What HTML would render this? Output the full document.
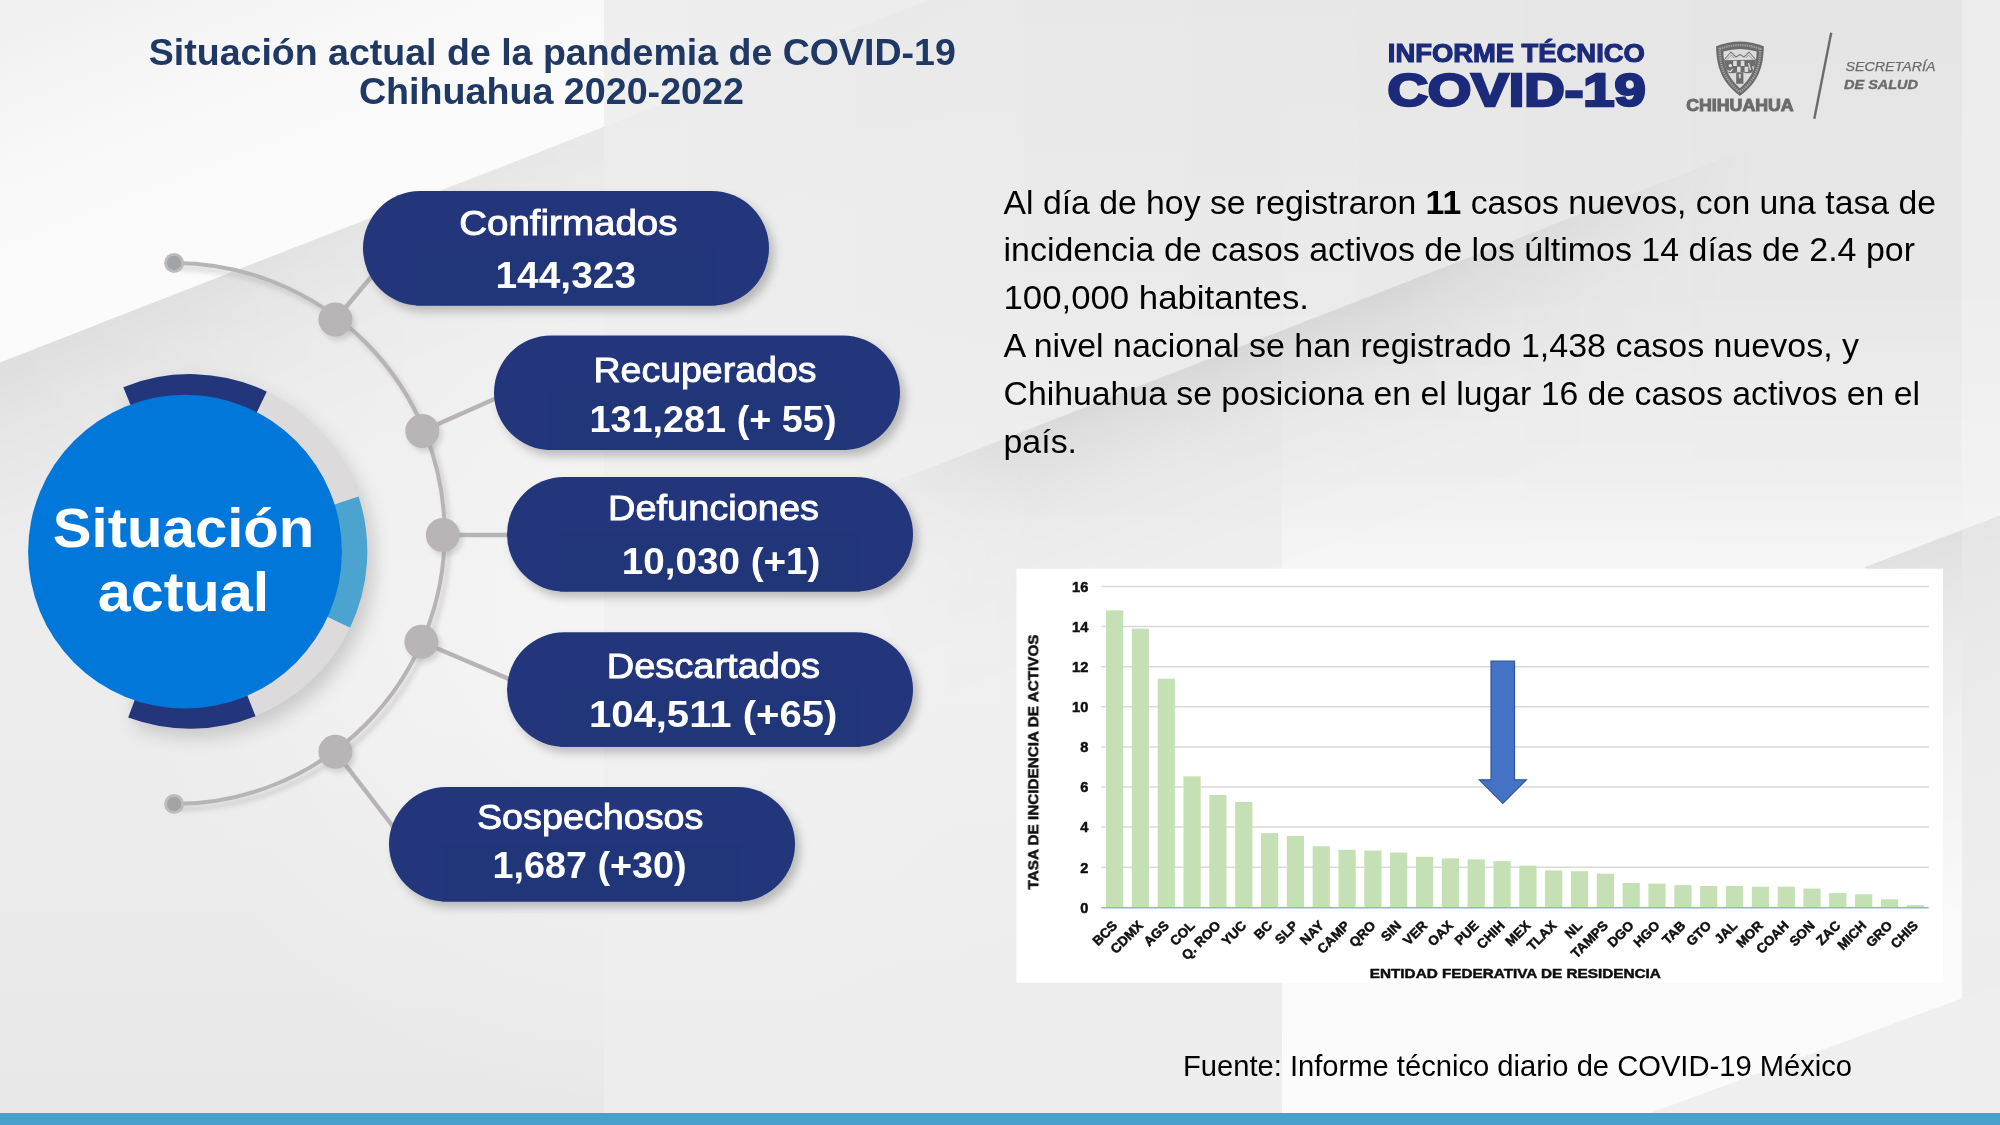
<!DOCTYPE html>
<html lang="es"><head><meta charset="utf-8"><title>Situación actual de la pandemia de COVID-19 Chihuahua 2020-2022</title>
<style>html,body{margin:0;padding:0;background:#ececec;}body{width:2000px;height:1125px;overflow:hidden;font-family:"Liberation Sans", sans-serif;}svg{display:block;}text{font-family:"Liberation Sans", sans-serif;}</style>
</head><body>
<svg width="2000" height="1125" viewBox="0 0 2000 1125" style="will-change:transform">
<defs>
<linearGradient id="gBase" x1="0" y1="0" x2="0" y2="1"><stop offset="0" stop-color="#eaeaea"/><stop offset="0.3" stop-color="#ebebeb"/><stop offset="0.6" stop-color="#ededed"/><stop offset="1" stop-color="#e8e8e8"/></linearGradient>
<linearGradient id="gA" gradientUnits="userSpaceOnUse" x1="300" y1="245.4" x2="191" y2="-34"><stop offset="0" stop-color="#fbfbfb"/><stop offset="0.6" stop-color="#f8f8f8"/><stop offset="1" stop-color="#f1f1f1"/></linearGradient>
<linearGradient id="gB" gradientUnits="userSpaceOnUse" x1="300" y1="245.4" x2="361.8" y2="403.8"><stop offset="0" stop-color="#000" stop-opacity="0.052"/><stop offset="0.35" stop-color="#000" stop-opacity="0.026"/><stop offset="1" stop-color="#000" stop-opacity="0"/></linearGradient>
<linearGradient id="gBm" gradientUnits="userSpaceOnUse" x1="0" y1="0" x2="930" y2="0"><stop offset="0" stop-color="#fff"/><stop offset="0.3" stop-color="#aaa"/><stop offset="0.62" stop-color="#444"/><stop offset="1" stop-color="#222"/></linearGradient>
<mask id="mB" maskUnits="userSpaceOnUse" x="0" y="0" width="2000" height="1125"><rect width="2000" height="1125" fill="url(#gBm)"/></mask>
<linearGradient id="gC" gradientUnits="userSpaceOnUse" x1="1200" y1="362.4" x2="1287.2" y2="586"><stop offset="0" stop-color="#000" stop-opacity="0.08"/><stop offset="0.15" stop-color="#000" stop-opacity="0.05"/><stop offset="0.35" stop-color="#000" stop-opacity="0.022"/><stop offset="0.7" stop-color="#000" stop-opacity="0.006"/><stop offset="1" stop-color="#000" stop-opacity="0"/></linearGradient>
<linearGradient id="gCm" gradientUnits="userSpaceOnUse" x1="860" y1="0" x2="1760" y2="0"><stop offset="0" stop-color="#000"/><stop offset="0.2" stop-color="#fff"/><stop offset="0.6" stop-color="#fff"/><stop offset="1" stop-color="#000"/></linearGradient>
<mask id="mC" maskUnits="userSpaceOnUse" x="0" y="0" width="2000" height="1125"><rect width="2000" height="1125" fill="url(#gCm)"/></mask>
<linearGradient id="gD" gradientUnits="userSpaceOnUse" x1="1932" y1="541" x2="2060" y2="880"><stop offset="0" stop-color="#000" stop-opacity="0.085"/><stop offset="0.5" stop-color="#000" stop-opacity="0.035"/><stop offset="1" stop-color="#000" stop-opacity="0"/></linearGradient>
<linearGradient id="gE" x1="0" y1="0" x2="0" y2="1"><stop offset="0" stop-color="#fff" stop-opacity="0.0"/><stop offset="0.42" stop-color="#fff" stop-opacity="0.12"/><stop offset="0.53" stop-color="#fff" stop-opacity="0.55"/><stop offset="1" stop-color="#fff" stop-opacity="0.8"/></linearGradient>
<linearGradient id="gR" x1="0" y1="0" x2="0" y2="1"><stop offset="0" stop-color="#ececec"/><stop offset="0.14" stop-color="#ededed"/><stop offset="0.5" stop-color="#f0f0f0"/><stop offset="1" stop-color="#eeeeee"/></linearGradient>
<linearGradient id="gH" gradientUnits="userSpaceOnUse" x1="604" y1="0" x2="1800" y2="0"><stop offset="0" stop-color="#000" stop-opacity="0"/><stop offset="1" stop-color="#000" stop-opacity="0.028"/></linearGradient>
<linearGradient id="gHv" x1="0" y1="0" x2="0" y2="1"><stop offset="0" stop-color="#fff"/><stop offset="0.25" stop-color="#fff"/><stop offset="0.5" stop-color="#000"/><stop offset="1" stop-color="#000"/></linearGradient>
<mask id="mH" maskUnits="userSpaceOnUse" x="0" y="0" width="2000" height="1125"><rect width="2000" height="1125" fill="url(#gHv)"/></mask>
<radialGradient id="gF" gradientUnits="userSpaceOnUse" cx="640" cy="600" r="520"><stop offset="0" stop-color="#fff" stop-opacity="0.5"/><stop offset="1" stop-color="#fff" stop-opacity="0"/></radialGradient>
<filter id="cb" filterUnits="userSpaceOnUse" x="1016" y="568" width="928" height="416"><feGaussianBlur stdDeviation="0.55"/></filter>
<filter id="sh" x="-20%" y="-20%" width="140%" height="150%"><feGaussianBlur stdDeviation="5"/></filter>
<filter id="sh2" x="-20%" y="-20%" width="140%" height="140%"><feGaussianBlur stdDeviation="9"/></filter>
<filter id="sh3" x="-50%" y="-50%" width="200%" height="200%"><feGaussianBlur stdDeviation="2.5"/></filter>
</defs>
<rect width="2000" height="1125" fill="url(#gBase)"/>
<rect width="2000" height="1125" fill="url(#gF)"/>
<polygon points="0,0 929,0 0,362.4" fill="url(#gA)"/>
<polygon points="0,362.4 929,0 1450,0 0,565.5" fill="url(#gB)" mask="url(#mB)"/>
<rect x="604" y="0" width="1396" height="1125" fill="url(#gR)" opacity="0.82"/>
<rect x="1282" y="0" width="680" height="1125" fill="url(#gE)"/>
<rect x="604" y="0" width="1396" height="1125" fill="url(#gH)" mask="url(#mH)"/>
<polygon points="604,595 2000,50.3 2000,330 604,875" fill="url(#gC)" mask="url(#mC)"/>
<polygon points="1962,0 2000,0 2000,515.5 1962,530" fill="#fff" opacity="0.3"/>
<polygon points="1865,567 1962,530 1962,960 1865,960" fill="url(#gD)"/>
<polygon points="1962,530 2000,515.5 2000,960 1962,960" fill="url(#gD)" opacity="0.45"/>
<polygon points="1650,1113 2000,984.5 2000,1113" fill="#eeeeee" opacity="0.95"/>
<rect x="0" y="1113" width="2000" height="12" fill="#4aa0cc"/>
<text x="552.3" y="64.6" text-anchor="middle" font-size="37.33" font-weight="bold" fill="#1f3864" textLength="807" lengthAdjust="spacingAndGlyphs">Situación actual de la pandemia de COVID-19</text>
<text x="551.4" y="103.9" text-anchor="middle" font-size="37.33" font-weight="bold" fill="#1f3864" textLength="385" lengthAdjust="spacingAndGlyphs">Chihuahua 2020-2022</text>
<text x="1387.8" y="61.8" font-size="25.4" font-weight="bold" fill="#1b2a7a" stroke="#1b2a7a" stroke-width="1.1" textLength="257" lengthAdjust="spacingAndGlyphs">INFORME TÉCNICO</text>
<text x="1387.4" y="106.3" font-size="46.4" font-weight="bold" fill="#1b2a7a" stroke="#1b2a7a" stroke-width="2.6" stroke-linejoin="miter" textLength="258.2" lengthAdjust="spacingAndGlyphs">COVID-19</text>
<g id="shield">
<clipPath id="shIn"><path d="M1723.4,51.6 Q1740,46.2 1756.6,51.6 C1756.5,66 1752.5,77 1739.9,88.2 C1727.5,77 1723.5,66 1723.4,51.6 Z"/></clipPath>
<path d="M1716.1,46.3 Q1740,36.9 1763.8,46.3 C1763.5,66 1759,82 1739.9,95.9 C1721,82 1716.4,66 1716.1,46.3 Z" fill="#6b6b6b"/>
<path d="M1719.6,48.8 Q1740,41.4 1760.3,48.8 C1760,66 1756,79.8 1739.9,91.9 C1724,79.8 1720,66 1719.6,48.8 Z" fill="none" stroke="#a4a4a4" stroke-width="2.3" stroke-dasharray="1.3 1.0"/>
<g clip-path="url(#shIn)">
<rect x="1720" y="44" width="40" height="46" fill="#dcdcdc"/>
<path d="M1724,60 L1731,52 L1736,57 L1740,54.5 L1744,57 L1749,52 L1756,60" fill="none" stroke="#7a7a7a" stroke-width="1.1"/>
<path d="M1727,59.5 L1731.5,55 L1734,58 M1746,58 L1748.5,55 L1753,59.5" fill="none" stroke="#8a8a8a" stroke-width="0.9"/>
<path d="M1722,60.3 L1758,59.8 L1758,70 Q1749,74.5 1743.5,72.6 L1736.3,72.6 Q1731,74.5 1722,70 Z" fill="#6d6d6d"/>
<rect x="1733.2" y="60.8" width="3.6" height="5.2" fill="#dedede"/>
<rect x="1740.8" y="60.8" width="3.6" height="5.2" fill="#dedede"/>
<rect x="1737.0" y="66.7" width="3.6" height="5.2" fill="#dedede"/>
<rect x="1744.6" y="66.7" width="3.6" height="5.2" fill="#dedede"/>
<circle cx="1730.3" cy="65.6" r="1.7" fill="#e0e0e0"/>
<path d="M1727.5,70.5 Q1731,73 1732.5,68.8" fill="none" stroke="#d8d8d8" stroke-width="1.2"/>
<path d="M1748.5,63 L1750.5,70 M1752.8,66 L1754,71.5" fill="none" stroke="#d8d8d8" stroke-width="1.3"/>
<rect x="1736.2" y="72.6" width="7.2" height="11.2" fill="#6d6d6d"/>
<path d="M1738.6,74 L1741,74 L1740.6,78.2 L1739,78.2 Z" fill="#cfcfcf"/>
</g>
</g>
<text x="1686.2" y="110.5" font-size="16.8" font-weight="bold" fill="#6b6b6b" stroke="#6b6b6b" stroke-width="1.0" textLength="107.5" lengthAdjust="spacingAndGlyphs">CHIHUAHUA</text>
<line x1="1831.2" y1="32.8" x2="1814.3" y2="118.7" stroke="#6b6b6b" stroke-width="2.4"/>
<text x="1845.5" y="70.8" font-size="13.6" font-style="italic" fill="#6b6b6b" stroke="#6b6b6b" stroke-width="0.25" textLength="90" lengthAdjust="spacingAndGlyphs">SECRETARÍA</text>
<text x="1844" y="88.8" font-size="13.6" font-style="italic" font-weight="bold" fill="#6b6b6b" stroke="#6b6b6b" stroke-width="0.4" textLength="74" lengthAdjust="spacingAndGlyphs">DE SALUD</text>
<g>
<g opacity="0.35" filter="url(#sh3)" transform="translate(4,5)">
<path d="M174.1,263 A270.5,270.5 0 0 1 174.1,804" fill="none" stroke="#8a8a8a" stroke-width="4"/>
</g>
<path d="M174.1,263 A270.5,270.5 0 0 1 174.1,804" fill="none" stroke="#b8b4b5" stroke-width="4.0"/>
<line x1="335.4" y1="319.5" x2="372.0" y2="276.0" stroke="#b8b4b5" stroke-width="4.4"/>
<line x1="422.3" y1="431.0" x2="498.0" y2="397.5" stroke="#b8b4b5" stroke-width="4.4"/>
<line x1="442.8" y1="535.0" x2="510.0" y2="535.0" stroke="#b8b4b5" stroke-width="4.4"/>
<line x1="421.4" y1="641.8" x2="510.0" y2="679.5" stroke="#b8b4b5" stroke-width="4.4"/>
<line x1="335.4" y1="751.8" x2="393.0" y2="826.5" stroke="#b8b4b5" stroke-width="4.4"/>
<circle cx="335.4" cy="319.5" r="17" fill="#8f8f8f" opacity="0.3" filter="url(#sh3)" transform="translate(3,4)"/>
<circle cx="335.4" cy="319.5" r="17" fill="#b9b5b6"/>
<circle cx="422.3" cy="431.0" r="17" fill="#8f8f8f" opacity="0.3" filter="url(#sh3)" transform="translate(3,4)"/>
<circle cx="422.3" cy="431.0" r="17" fill="#b9b5b6"/>
<circle cx="442.8" cy="535.0" r="17" fill="#8f8f8f" opacity="0.3" filter="url(#sh3)" transform="translate(3,4)"/>
<circle cx="442.8" cy="535.0" r="17" fill="#b9b5b6"/>
<circle cx="421.4" cy="641.8" r="17" fill="#8f8f8f" opacity="0.3" filter="url(#sh3)" transform="translate(3,4)"/>
<circle cx="421.4" cy="641.8" r="17" fill="#b9b5b6"/>
<circle cx="335.4" cy="751.8" r="17" fill="#8f8f8f" opacity="0.3" filter="url(#sh3)" transform="translate(3,4)"/>
<circle cx="335.4" cy="751.8" r="17" fill="#b9b5b6"/>
<circle cx="174.1" cy="263.0" r="10" fill="#bdbbbc"/>
<circle cx="174.1" cy="263.0" r="7.2" fill="#a1a5a8"/>
<circle cx="174.1" cy="804.0" r="10" fill="#bdbbbc"/>
<circle cx="174.1" cy="804.0" r="7.2" fill="#a1a5a8"/>
</g>
<path d="M123.58,387.01 A177.3,177.3 0 1 1 127.91,717.47 Z" fill="#7a7a7a" opacity="0.32" filter="url(#sh2)" transform="translate(7,9)"/>
<path d="M123.30,387.13 A177.3,177.3 0 0 1 266.89,391.64 L250.71,425.25 A140.0,140.0 0 0 0 137.33,421.69 Z" fill="#23367c"/>
<path d="M266.89,391.64 A177.3,177.3 0 0 1 358.62,496.61 L323.15,508.14 A140.0,140.0 0 0 0 250.71,425.25 Z" fill="#dcdadb"/>
<path d="M358.62,496.61 A177.3,177.3 0 0 1 350.03,627.73 L316.36,611.67 A140.0,140.0 0 0 0 323.15,508.14 Z" fill="#4ba3cf"/>
<path d="M350.03,627.73 A177.3,177.3 0 0 1 255.56,716.14 L241.76,681.48 A140.0,140.0 0 0 0 316.36,611.67 Z" fill="#dcdadb"/>
<path d="M255.56,716.14 A177.3,177.3 0 0 1 128.20,717.58 L141.20,682.62 A140.0,140.0 0 0 0 241.76,681.48 Z" fill="#23367c"/>
<circle cx="185" cy="551.7" r="156.9" fill="#0077d9"/>
<text x="183.6" y="546.6" text-anchor="middle" font-size="56" font-weight="bold" fill="#fff" textLength="261.5" lengthAdjust="spacingAndGlyphs">Situación</text>
<text x="183.6" y="610.6" text-anchor="middle" font-size="56" font-weight="bold" fill="#fff" textLength="171.5" lengthAdjust="spacingAndGlyphs">actual</text>
<rect x="363.0" y="191.0" width="406.0" height="114.5" rx="57.25" fill="#6f6f6f" opacity="0.42" filter="url(#sh)" transform="translate(5,6)"/>
<rect x="363.0" y="191.0" width="406.0" height="114.5" rx="57.25" fill="#23367c"/>
<rect x="416.0" y="248.0" width="300" height="57.5" fill="#213579"/>
<text x="459.2" y="234.5" font-size="34.8" fill="#fff" stroke="#fff" stroke-width="0.9" textLength="218.3" lengthAdjust="spacingAndGlyphs">Confirmados</text>
<text x="495.5" y="288.4" font-size="37.7" font-weight="bold" fill="#fff" textLength="140.5" lengthAdjust="spacingAndGlyphs">144,323</text>
<rect x="494.0" y="335.5" width="406.0" height="114.5" rx="57.25" fill="#6f6f6f" opacity="0.42" filter="url(#sh)" transform="translate(5,6)"/>
<rect x="494.0" y="335.5" width="406.0" height="114.5" rx="57.25" fill="#23367c"/>
<rect x="547.0" y="392.5" width="300" height="57.5" fill="#213579"/>
<text x="593.5" y="381.9" font-size="34.8" fill="#fff" stroke="#fff" stroke-width="0.9" textLength="223.0" lengthAdjust="spacingAndGlyphs">Recuperados</text>
<text x="589.4" y="432.0" font-size="37.7" font-weight="bold" fill="#fff" textLength="247.1" lengthAdjust="spacingAndGlyphs">131,281 (+ 55)</text>
<rect x="507.0" y="477.0" width="406.0" height="114.5" rx="57.25" fill="#6f6f6f" opacity="0.42" filter="url(#sh)" transform="translate(5,6)"/>
<rect x="507.0" y="477.0" width="406.0" height="114.5" rx="57.25" fill="#23367c"/>
<rect x="560.0" y="534.0" width="300" height="57.5" fill="#213579"/>
<text x="608.0" y="519.6" font-size="34.8" fill="#fff" stroke="#fff" stroke-width="0.9" textLength="211.1" lengthAdjust="spacingAndGlyphs">Defunciones</text>
<text x="621.7" y="573.8" font-size="37.7" font-weight="bold" fill="#fff" textLength="198.8" lengthAdjust="spacingAndGlyphs">10,030 (+1)</text>
<rect x="507.0" y="632.3" width="406.0" height="114.5" rx="57.25" fill="#6f6f6f" opacity="0.42" filter="url(#sh)" transform="translate(5,6)"/>
<rect x="507.0" y="632.3" width="406.0" height="114.5" rx="57.25" fill="#23367c"/>
<rect x="560.0" y="689.3" width="300" height="57.5" fill="#213579"/>
<text x="606.8" y="678.3" font-size="34.8" fill="#fff" stroke="#fff" stroke-width="0.9" textLength="213.2" lengthAdjust="spacingAndGlyphs">Descartados</text>
<text x="588.9" y="727.0" font-size="37.7" font-weight="bold" fill="#fff" textLength="248.4" lengthAdjust="spacingAndGlyphs">104,511 (+65)</text>
<rect x="389.0" y="787.0" width="406.0" height="114.5" rx="57.25" fill="#6f6f6f" opacity="0.42" filter="url(#sh)" transform="translate(5,6)"/>
<rect x="389.0" y="787.0" width="406.0" height="114.5" rx="57.25" fill="#23367c"/>
<rect x="442.0" y="844.0" width="300" height="57.5" fill="#213579"/>
<text x="476.9" y="828.7" font-size="34.8" fill="#fff" stroke="#fff" stroke-width="0.9" textLength="226.6" lengthAdjust="spacingAndGlyphs">Sospechosos</text>
<text x="492.5" y="878.0" font-size="37.7" font-weight="bold" fill="#fff" textLength="194.2" lengthAdjust="spacingAndGlyphs">1,687 (+30)</text>
<text x="1003.5" y="213.5" font-size="33" fill="#000" textLength="932.5" lengthAdjust="spacingAndGlyphs">Al día de hoy se registraron <tspan font-weight="bold">11</tspan> casos nuevos, con una tasa de</text>
<text x="1003.5" y="260.7" font-size="33" fill="#000" textLength="911.5" lengthAdjust="spacingAndGlyphs">incidencia de casos activos de los últimos 14 días de 2.4 por</text>
<text x="1003.5" y="308.7" font-size="33" fill="#000" textLength="305.5" lengthAdjust="spacingAndGlyphs">100,000 habitantes.</text>
<text x="1003.5" y="356.7" font-size="33" fill="#000" textLength="855.5" lengthAdjust="spacingAndGlyphs">A nivel nacional se han registrado 1,438 casos nuevos, y</text>
<text x="1003.5" y="404.7" font-size="33" fill="#000" textLength="916.5" lengthAdjust="spacingAndGlyphs">Chihuahua se posiciona en el lugar 16 de casos activos en el</text>
<text x="1003.5" y="452.7" font-size="33" fill="#000" textLength="73.5" lengthAdjust="spacingAndGlyphs">país.</text>
<rect x="1016.5" y="568.7" width="926.5" height="414" fill="#fff"/>
<g filter="url(#cb)">
<line x1="1101.3" y1="867.2" x2="1928.7" y2="867.2" stroke="#d9d9d9" stroke-width="1.5"/>
<line x1="1101.3" y1="827.1" x2="1928.7" y2="827.1" stroke="#d9d9d9" stroke-width="1.5"/>
<line x1="1101.3" y1="787.0" x2="1928.7" y2="787.0" stroke="#d9d9d9" stroke-width="1.5"/>
<line x1="1101.3" y1="746.9" x2="1928.7" y2="746.9" stroke="#d9d9d9" stroke-width="1.5"/>
<line x1="1101.3" y1="706.8" x2="1928.7" y2="706.8" stroke="#d9d9d9" stroke-width="1.5"/>
<line x1="1101.3" y1="666.7" x2="1928.7" y2="666.7" stroke="#d9d9d9" stroke-width="1.5"/>
<line x1="1101.3" y1="626.6" x2="1928.7" y2="626.6" stroke="#d9d9d9" stroke-width="1.5"/>
<line x1="1101.3" y1="586.5" x2="1928.7" y2="586.5" stroke="#d9d9d9" stroke-width="1.5"/>
<rect x="1106.0" y="610.4" width="17.2" height="296.9" fill="#c5e0b4"/>
<rect x="1131.8" y="628.6" width="17.2" height="278.7" fill="#c5e0b4"/>
<rect x="1157.7" y="678.7" width="17.2" height="228.6" fill="#c5e0b4"/>
<rect x="1183.5" y="776.4" width="17.2" height="130.9" fill="#c5e0b4"/>
<rect x="1209.3" y="795.0" width="17.2" height="112.3" fill="#c5e0b4"/>
<rect x="1235.2" y="802.0" width="17.2" height="105.3" fill="#c5e0b4"/>
<rect x="1261.0" y="833.1" width="17.2" height="74.2" fill="#c5e0b4"/>
<rect x="1286.8" y="835.9" width="17.2" height="71.4" fill="#c5e0b4"/>
<rect x="1312.6" y="846.3" width="17.2" height="61.0" fill="#c5e0b4"/>
<rect x="1338.5" y="849.8" width="17.2" height="57.5" fill="#c5e0b4"/>
<rect x="1364.3" y="850.6" width="17.2" height="56.7" fill="#c5e0b4"/>
<rect x="1390.1" y="852.6" width="17.2" height="54.7" fill="#c5e0b4"/>
<rect x="1416.0" y="856.8" width="17.2" height="50.5" fill="#c5e0b4"/>
<rect x="1441.8" y="858.4" width="17.2" height="48.9" fill="#c5e0b4"/>
<rect x="1467.6" y="859.4" width="17.2" height="47.9" fill="#c5e0b4"/>
<rect x="1493.5" y="861.2" width="17.2" height="46.1" fill="#c5e0b4"/>
<rect x="1519.3" y="865.6" width="17.2" height="41.7" fill="#c5e0b4"/>
<rect x="1545.1" y="870.4" width="17.2" height="36.9" fill="#c5e0b4"/>
<rect x="1570.9" y="871.2" width="17.2" height="36.1" fill="#c5e0b4"/>
<rect x="1596.8" y="873.7" width="17.2" height="33.6" fill="#c5e0b4"/>
<rect x="1622.6" y="883.0" width="17.2" height="24.3" fill="#c5e0b4"/>
<rect x="1648.4" y="883.6" width="17.2" height="23.7" fill="#c5e0b4"/>
<rect x="1674.3" y="885.2" width="17.2" height="22.1" fill="#c5e0b4"/>
<rect x="1700.1" y="886.0" width="17.2" height="21.3" fill="#c5e0b4"/>
<rect x="1725.9" y="886.0" width="17.2" height="21.3" fill="#c5e0b4"/>
<rect x="1751.8" y="886.7" width="17.2" height="20.6" fill="#c5e0b4"/>
<rect x="1777.6" y="886.7" width="17.2" height="20.6" fill="#c5e0b4"/>
<rect x="1803.4" y="888.6" width="17.2" height="18.7" fill="#c5e0b4"/>
<rect x="1829.2" y="893.1" width="17.2" height="14.2" fill="#c5e0b4"/>
<rect x="1855.1" y="894.3" width="17.2" height="13.0" fill="#c5e0b4"/>
<rect x="1880.9" y="899.3" width="17.2" height="8.0" fill="#c5e0b4"/>
<rect x="1906.7" y="905.1" width="17.2" height="2.2" fill="#c5e0b4"/>
<line x1="1101.3" y1="907.7" x2="1928.7" y2="907.7" stroke="#8fb4dc" stroke-width="1.6"/>
<text x="1088.3" y="912.6" text-anchor="end" font-size="14.6" font-weight="bold" fill="#111" stroke="#111" stroke-width="0.5">0</text>
<text x="1088.3" y="872.5" text-anchor="end" font-size="14.6" font-weight="bold" fill="#111" stroke="#111" stroke-width="0.5">2</text>
<text x="1088.3" y="832.4" text-anchor="end" font-size="14.6" font-weight="bold" fill="#111" stroke="#111" stroke-width="0.5">4</text>
<text x="1088.3" y="792.3" text-anchor="end" font-size="14.6" font-weight="bold" fill="#111" stroke="#111" stroke-width="0.5">6</text>
<text x="1088.3" y="752.2" text-anchor="end" font-size="14.6" font-weight="bold" fill="#111" stroke="#111" stroke-width="0.5">8</text>
<text x="1088.3" y="712.1" text-anchor="end" font-size="14.6" font-weight="bold" fill="#111" stroke="#111" stroke-width="0.5">10</text>
<text x="1088.3" y="672.0" text-anchor="end" font-size="14.6" font-weight="bold" fill="#111" stroke="#111" stroke-width="0.5">12</text>
<text x="1088.3" y="631.9" text-anchor="end" font-size="14.6" font-weight="bold" fill="#111" stroke="#111" stroke-width="0.5">14</text>
<text x="1088.3" y="591.8" text-anchor="end" font-size="14.6" font-weight="bold" fill="#111" stroke="#111" stroke-width="0.5">16</text>
<text transform="translate(1118.1,926.5) rotate(-45)" text-anchor="end" font-size="13.4" font-weight="bold" fill="#111" stroke="#111" stroke-width="0.5">BCS</text>
<text transform="translate(1143.9,926.5) rotate(-45)" text-anchor="end" font-size="13.4" font-weight="bold" fill="#111" stroke="#111" stroke-width="0.5">CDMX</text>
<text transform="translate(1169.8,926.5) rotate(-45)" text-anchor="end" font-size="13.4" font-weight="bold" fill="#111" stroke="#111" stroke-width="0.5">AGS</text>
<text transform="translate(1195.6,926.5) rotate(-45)" text-anchor="end" font-size="13.4" font-weight="bold" fill="#111" stroke="#111" stroke-width="0.5">COL</text>
<text transform="translate(1221.4,926.5) rotate(-45)" text-anchor="end" font-size="13.4" font-weight="bold" fill="#111" stroke="#111" stroke-width="0.5">Q. ROO</text>
<text transform="translate(1247.2,926.5) rotate(-45)" text-anchor="end" font-size="13.4" font-weight="bold" fill="#111" stroke="#111" stroke-width="0.5">YUC</text>
<text transform="translate(1273.1,926.5) rotate(-45)" text-anchor="end" font-size="13.4" font-weight="bold" fill="#111" stroke="#111" stroke-width="0.5">BC</text>
<text transform="translate(1298.9,926.5) rotate(-45)" text-anchor="end" font-size="13.4" font-weight="bold" fill="#111" stroke="#111" stroke-width="0.5">SLP</text>
<text transform="translate(1324.7,926.5) rotate(-45)" text-anchor="end" font-size="13.4" font-weight="bold" fill="#111" stroke="#111" stroke-width="0.5">NAY</text>
<text transform="translate(1350.6,926.5) rotate(-45)" text-anchor="end" font-size="13.4" font-weight="bold" fill="#111" stroke="#111" stroke-width="0.5">CAMP</text>
<text transform="translate(1376.4,926.5) rotate(-45)" text-anchor="end" font-size="13.4" font-weight="bold" fill="#111" stroke="#111" stroke-width="0.5">QRO</text>
<text transform="translate(1402.2,926.5) rotate(-45)" text-anchor="end" font-size="13.4" font-weight="bold" fill="#111" stroke="#111" stroke-width="0.5">SIN</text>
<text transform="translate(1428.1,926.5) rotate(-45)" text-anchor="end" font-size="13.4" font-weight="bold" fill="#111" stroke="#111" stroke-width="0.5">VER</text>
<text transform="translate(1453.9,926.5) rotate(-45)" text-anchor="end" font-size="13.4" font-weight="bold" fill="#111" stroke="#111" stroke-width="0.5">OAX</text>
<text transform="translate(1479.7,926.5) rotate(-45)" text-anchor="end" font-size="13.4" font-weight="bold" fill="#111" stroke="#111" stroke-width="0.5">PUE</text>
<text transform="translate(1505.5,926.5) rotate(-45)" text-anchor="end" font-size="13.4" font-weight="bold" fill="#111" stroke="#111" stroke-width="0.5">CHIH</text>
<text transform="translate(1531.4,926.5) rotate(-45)" text-anchor="end" font-size="13.4" font-weight="bold" fill="#111" stroke="#111" stroke-width="0.5">MEX</text>
<text transform="translate(1557.2,926.5) rotate(-45)" text-anchor="end" font-size="13.4" font-weight="bold" fill="#111" stroke="#111" stroke-width="0.5">TLAX</text>
<text transform="translate(1583.0,926.5) rotate(-45)" text-anchor="end" font-size="13.4" font-weight="bold" fill="#111" stroke="#111" stroke-width="0.5">NL</text>
<text transform="translate(1608.9,926.5) rotate(-45)" text-anchor="end" font-size="13.4" font-weight="bold" fill="#111" stroke="#111" stroke-width="0.5">TAMPS</text>
<text transform="translate(1634.7,926.5) rotate(-45)" text-anchor="end" font-size="13.4" font-weight="bold" fill="#111" stroke="#111" stroke-width="0.5">DGO</text>
<text transform="translate(1660.5,926.5) rotate(-45)" text-anchor="end" font-size="13.4" font-weight="bold" fill="#111" stroke="#111" stroke-width="0.5">HGO</text>
<text transform="translate(1686.4,926.5) rotate(-45)" text-anchor="end" font-size="13.4" font-weight="bold" fill="#111" stroke="#111" stroke-width="0.5">TAB</text>
<text transform="translate(1712.2,926.5) rotate(-45)" text-anchor="end" font-size="13.4" font-weight="bold" fill="#111" stroke="#111" stroke-width="0.5">GTO</text>
<text transform="translate(1738.0,926.5) rotate(-45)" text-anchor="end" font-size="13.4" font-weight="bold" fill="#111" stroke="#111" stroke-width="0.5">JAL</text>
<text transform="translate(1763.8,926.5) rotate(-45)" text-anchor="end" font-size="13.4" font-weight="bold" fill="#111" stroke="#111" stroke-width="0.5">MOR</text>
<text transform="translate(1789.7,926.5) rotate(-45)" text-anchor="end" font-size="13.4" font-weight="bold" fill="#111" stroke="#111" stroke-width="0.5">COAH</text>
<text transform="translate(1815.5,926.5) rotate(-45)" text-anchor="end" font-size="13.4" font-weight="bold" fill="#111" stroke="#111" stroke-width="0.5">SON</text>
<text transform="translate(1841.3,926.5) rotate(-45)" text-anchor="end" font-size="13.4" font-weight="bold" fill="#111" stroke="#111" stroke-width="0.5">ZAC</text>
<text transform="translate(1867.2,926.5) rotate(-45)" text-anchor="end" font-size="13.4" font-weight="bold" fill="#111" stroke="#111" stroke-width="0.5">MICH</text>
<text transform="translate(1893.0,926.5) rotate(-45)" text-anchor="end" font-size="13.4" font-weight="bold" fill="#111" stroke="#111" stroke-width="0.5">GRO</text>
<text transform="translate(1918.8,926.5) rotate(-45)" text-anchor="end" font-size="13.4" font-weight="bold" fill="#111" stroke="#111" stroke-width="0.5">CHIS</text>
<text transform="translate(1038.3,762) rotate(-90)" text-anchor="middle" font-size="14.6" font-weight="bold" fill="#111" stroke="#111" stroke-width="0.5" textLength="255" lengthAdjust="spacingAndGlyphs">TASA DE INCIDENCIA DE ACTIVOS</text>
<text x="1515.3" y="977.9" text-anchor="middle" font-size="13.5" font-weight="bold" fill="#111" stroke="#111" stroke-width="0.5" textLength="291" lengthAdjust="spacingAndGlyphs">ENTIDAD FEDERATIVA DE RESIDENCIA</text>
</g>
<path d="M1491,661 L1514.5,661 L1514.5,779.8 L1526.3,779.8 L1502.8,803.3 L1479.3,779.8 L1491,779.8 Z" fill="#4472c4" stroke="#2f5597" stroke-width="1.2"/>
<text x="1183" y="1076" font-size="29.33" fill="#000" textLength="669" lengthAdjust="spacingAndGlyphs">Fuente: Informe técnico diario de COVID-19 México</text>
</svg>
</body></html>
